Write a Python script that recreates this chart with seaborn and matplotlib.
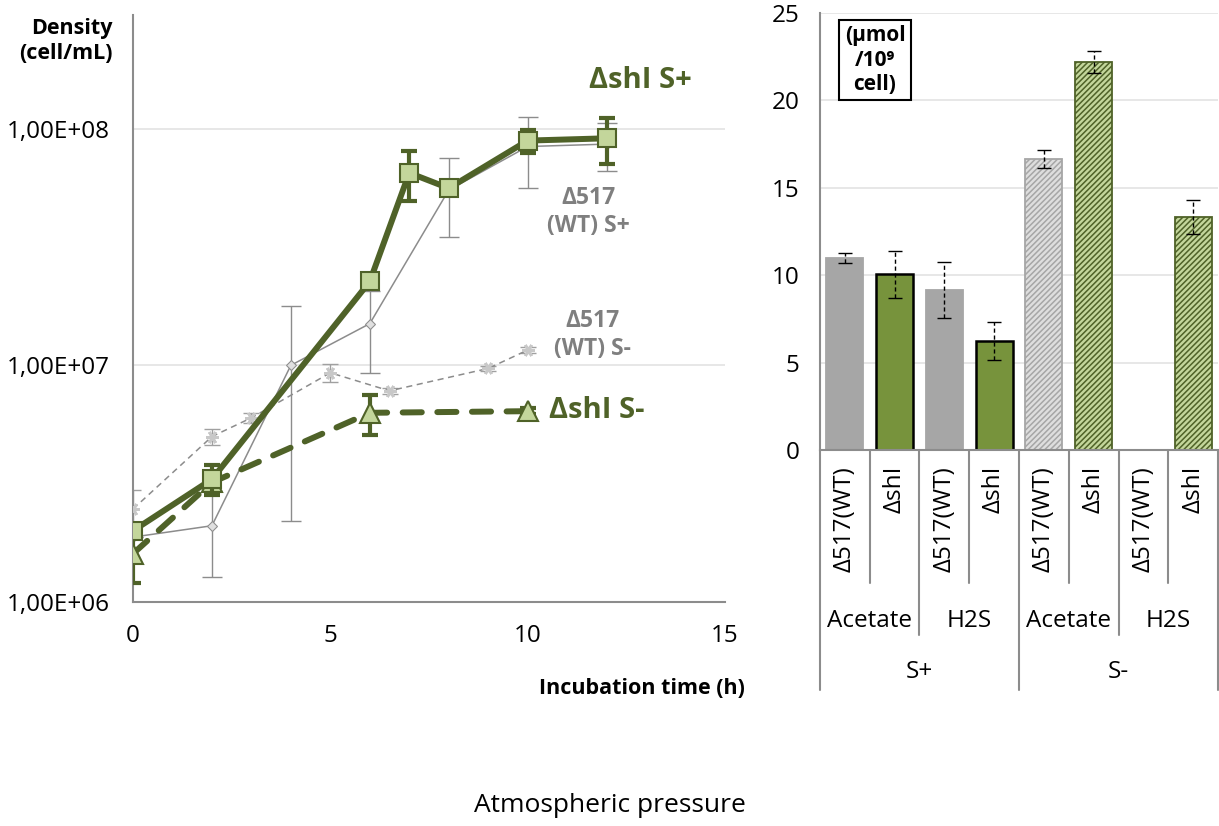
import numpy as np
import pandas as pd
import matplotlib
matplotlib.use("Agg")
import matplotlib.pyplot as plt
import seaborn as sns

# growth curves (cell/mL)
t_shl_sp = [0, 2, 6, 7, 8, 10, 12]
v_shl_sp = [2.0e6, 3.3e6, 2.26e7, 6.5e7, 5.6e7, 8.9e7, 9.1e7]
e_shl_sp = [0, 0.48e6, 0, 1.55e7, 0, 0.1e8, 2.0e7]

t_wt_sp = [0, 2, 4, 6, 8, 10, 12]
v_wt_sp = [1.88e6, 2.1e6, 1.0e7, 1.5e7, 5.5e7, 8.4e7, 8.6e7]
e_wt_sp = [0, 0.83e6, 7.8e6, 5.7e6, 2.0e7, 2.8e7, 2.0e7]

t_wt_sm = [0, 2, 3, 5, 6.5, 9, 10]
v_wt_sm = [2.47e6, 5.0e6, 6.0e6, 9.3e6, 7.8e6, 9.7e6, 1.16e7]
e_wt_sm = [0.5e6, 0.4e6, 0.3e6, 0.8e6, 0.2e6, 0.2e6, 0.3e6]

t_shl_sm = [0, 2, 6, 10]
v_shl_sm = [1.6e6, 3.2e6, 6.3e6, 6.4e6]
e_shl_sm = [0.4e6, 0.3e6, 1.2e6, 0.2e6]

# production bars (umol / 1e9 cell)
strains = ["Δ517(WT)", "ΔshI", "Δ517(WT)", "ΔshI", "Δ517(WT)", "ΔshI", "Δ517(WT)", "ΔshI"]
compounds = ["Acetate", "H2S", "Acetate", "H2S"]
conditions = ["S+", "S-"]
bar_vals = [11.0, 10.05, 9.15, 6.24, 16.65, 22.2, 0, 13.33]
bar_errs = [0.28, 1.35, 1.6, 1.08, 0.5, 0.65, 0, 0.95]

dark = "#4F6228"
light = "#C3D69B"
green = "#77933C"
gray = "#A6A6A6"
lgray = "#DEDEDE"
txtgray = "#7F7F7F"

sns.set_style("white")
plt.rcParams['font.family'] = ['Open Sans', 'DejaVu Sans']
plt.rcParams['text.color'] = 'black'
plt.rcParams['hatch.linewidth'] = 1.1

fig = plt.figure(figsize=(12.19, 8.26), dpi=100)
W, H = 1219, 826

def box(x0, y0, x1, y1):
    return [x0 / W, 1 - y1 / H, (x1 - x0) / W, (y1 - y0) / H]

TICK = 17.5

# ---------- left: growth ----------
ax = fig.add_axes(box(133, 15, 725, 602))
ax.set_yscale("log")

# WT S+ thin gray
sns.lineplot(x=t_wt_sp, y=v_wt_sp, ax=ax, color="#8C8C8C", linewidth=1.1,
             marker="D", markersize=5, markerfacecolor="#E0E0E0",
             markeredgecolor="#8C8C8C", errorbar=None, zorder=3)
ax.errorbar(t_wt_sp, v_wt_sp, yerr=e_wt_sp, fmt="none", ecolor="#8C8C8C",
            elinewidth=1, capsize=7, capthick=1, zorder=2)

# WT S- thin dashed
sns.lineplot(x=t_wt_sm, y=v_wt_sm, ax=ax, color="#8C8C8C", linewidth=1.1,
             marker=(6, 2, 90), markersize=9, markeredgewidth=2,
             markeredgecolor="#C8C8C8", errorbar=None, zorder=3)
ax.lines[-1].set_dashes((4, 3))
ax.errorbar(t_wt_sm, v_wt_sm, yerr=e_wt_sm, fmt="none", ecolor="#A0A0A0",
            elinewidth=1, capsize=6, capthick=1, zorder=2)

# shI S- thick dashed
sns.lineplot(x=t_shl_sm, y=v_shl_sm, ax=ax, color=dark, linewidth=4.3,
             marker="^", markersize=14, markerfacecolor=light,
             markeredgecolor=dark, markeredgewidth=1.5, errorbar=None, zorder=4)
ln = ax.lines[-1]
ln.set_dashes((3.2, 2.6))
ln.set_dash_capstyle("round")
ax.errorbar(t_shl_sm, v_shl_sm, yerr=e_shl_sm, fmt="none", ecolor=dark,
            elinewidth=3, capsize=6, capthick=3, zorder=3)

# shI S+ thick solid
sns.lineplot(x=t_shl_sp, y=v_shl_sp, ax=ax, color=dark, linewidth=4.3,
             marker="s", markersize=13, markerfacecolor=light,
             markeredgecolor=dark, markeredgewidth=1.5, errorbar=None, zorder=5)
ax.errorbar(t_shl_sp, v_shl_sp, yerr=e_shl_sp, fmt="none", ecolor=dark,
            elinewidth=3, capsize=6, capthick=3, zorder=4)

ax.set_xlim(0, 15)
ax.set_ylim(1e6, 10 ** 8.48)
ax.set_xticks([0, 5, 10, 15])
ax.set_yticks([1e6, 1e7, 1e8])
ax.set_yticklabels(["1,00E+06", "1,00E+07", "1,00E+08"])
ax.yaxis.set_minor_locator(matplotlib.ticker.NullLocator())
ax.grid(axis="y", which="major", color="#E3E3E3", linewidth=1.2)
for s in ["top", "right"]:
    ax.spines[s].set_visible(False)
for s in ["left", "bottom"]:
    ax.spines[s].set_color("#8C8C8C")
    ax.spines[s].set_linewidth(1.5)
ax.tick_params(axis="both", direction="out", length=7, width=1.5, color="#8C8C8C",
               labelsize=TICK, labelcolor="black")
ax.tick_params(axis="x", pad=9)
ax.tick_params(axis="y", pad=10)
ax.set_xlabel("")
ax.set_ylabel("")

fig.text(113 / W, 1 - 41 / H, "Density\n(cell/mL)", ha="right", va="center",
         fontsize=15.5, fontweight="bold", linespacing=1.3)
fig.text(745 / W, 1 - 688 / H, "Incubation time (h)", ha="right", va="center",
         fontsize=15.5, fontweight="bold")

fig.text(640 / W, 1 - 80 / H, "ΔshI S+", ha="center", va="center",
         fontsize=21, fontweight="bold", color=dark)
fig.text(588 / W, 1 - 212 / H, "Δ517\n(WT) S+", ha="center", va="center",
         fontsize=16.5, fontweight="bold", color=txtgray, linespacing=1.2)
fig.text(592 / W, 1 - 335 / H, "Δ517\n(WT) S-", ha="center", va="center",
         fontsize=16.5, fontweight="bold", color=txtgray, linespacing=1.2)
fig.text(597 / W, 1 - 410 / H, "ΔshI S-", ha="center", va="center",
         fontsize=21, fontweight="bold", color=dark)

# ---------- right: bars ----------
bx = fig.add_axes(box(820, 13, 1218, 450))
keys = [str(i) for i in range(len(strains))]
df = pd.DataFrame({"key": keys, "value": bar_vals})
faces = [gray, green, gray, green, lgray, light, lgray, light]
sns.barplot(data=df, x="key", y="value", hue="key", palette=faces, legend=False,
            width=0.74, ax=bx, zorder=2, saturation=1)
edges = [gray, "black", gray, "black", gray, dark, gray, dark]
for i, p in enumerate(bx.patches):
    p.set_edgecolor(edges[i])
    p.set_linewidth(1.8 if i in (1, 3) else 1.3)
    if i >= 4:
        p.set_hatch("//////")
    if bar_vals[i] == 0:
        p.set_visible(False)

ok = [i for i in range(len(bar_vals)) if bar_errs[i] > 0]
eb = bx.errorbar(ok, [bar_vals[i] for i in ok], yerr=[bar_errs[i] for i in ok],
                 fmt="none", ecolor="black", elinewidth=1, capsize=5, capthick=1, zorder=3)
eb[2][0].set_linestyle((0, (3, 2)))

bx.set_xlim(-0.5, 7.5)
bx.set_ylim(0, 25)
bx.set_yticks([0, 5, 10, 15, 20, 25])
bx.grid(axis="y", color="#E3E3E3", linewidth=1.2, zorder=0)
bx.set_axisbelow(True)
for s in ["top", "right"]:
    bx.spines[s].set_visible(False)
for s in ["left", "bottom"]:
    bx.spines[s].set_color("#8C8C8C")
    bx.spines[s].set_linewidth(1.5)
bx.tick_params(axis="y", direction="out", length=7, width=1.5, color="#8C8C8C",
               labelsize=TICK, labelcolor="black", pad=8)
bx.set_xticks([])
bx.set_xlabel("")
bx.set_ylabel("")

# multi-level category axis
tr = bx.get_xaxis_transform()
def fy(py):
    return -(py - 450) / 437

for xb in np.arange(-0.5, 8.0, 1.0):
    if xb in (-0.5, 3.5, 7.5):
        bottom = 690
    elif xb in (1.5, 5.5):
        bottom = 635
    else:
        bottom = 583
    bx.plot([xb, xb], [0, fy(bottom)], transform=tr, color="#8C8C8C",
            linewidth=1.5, clip_on=False)

for i, s in enumerate(strains):
    bx.text(i, fy(466), s, transform=tr, rotation=90, ha="center", va="top",
            fontsize=17.5, color="black")
for j, c in enumerate(compounds):
    bx.text(2 * j + 0.5, fy(621), c, transform=tr, ha="center", va="center",
            fontsize=17.5, color="black")
for k, c in enumerate(conditions):
    bx.text(4 * k + 1.5, fy(672), c, transform=tr, ha="center", va="center",
            fontsize=17.5, color="black")

fig.text(875 / W, 1 - 60 / H, "(μmol\n/10⁹\ncell)", ha="center", va="center",
         fontsize=15, fontweight="bold", linespacing=1.2,
         bbox=dict(boxstyle="square,pad=0.25", facecolor="white",
                   edgecolor="black", linewidth=1.5))

fig.text(610 / W, 1 - 805 / H, "Atmospheric pressure", ha="center", va="center",
         fontsize=19)

fig.savefig("out.png", dpi=100)
